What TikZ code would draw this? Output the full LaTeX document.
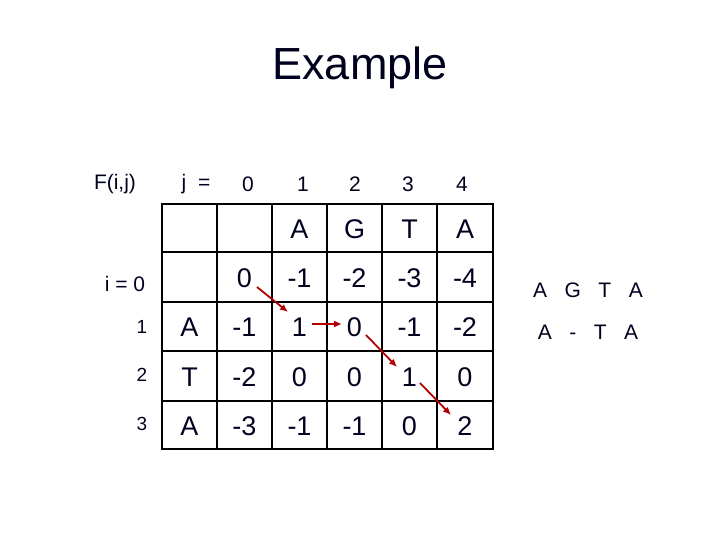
\documentclass[tikz,border=0pt]{standalone}
\usepackage{fontspec}
\setmainfont{Liberation Sans}
\usetikzlibrary{arrows.meta}
\begin{document}
\begin{tikzpicture}[x=1pt,y=-1pt,
  txt/.style={text=black!80!blue!60!black, inner sep=0pt},
  cell/.style={txt, font=\fontsize{27}{27}\selectfont},
  hdr/.style={txt, font=\fontsize{21}{21}\selectfont},
  arr/.style={draw=red!70!black, line width=1.8pt, -{Latex[length=8pt,width=7pt]}}]
\useasboundingbox (0,0) rectangle (720,540);
\node[txt, font=\fontsize{45}{45}\selectfont] (title) at (360,68) {Example};
\node[hdr] (F) at (115,184) {F(i,j)};
\node[hdr] (j) at (196,184) {j\ \ =};
\foreach \v/\x in {0/248,1/303,2/355,3/408,4/462} \node[hdr] (h\v) at (\x,184) {\v};
\node[hdr] (i0) at (125,284) {i = 0};
\foreach \v/\y in {1/327,2/375,3/424} \node[txt,font=\fontsize{19}{19}\selectfont] (r\v) at (142,\y) {\v};
\foreach \x in {217,272,327,382,437} \draw[line width=1.3pt] (\x,204) -- (\x,449);
\foreach \y in {252,302,351,401} \draw[line width=1.3pt] (162,\y) -- (493,\y);
\draw[line width=2.2pt] (162,204) rectangle (493,449);
\foreach \r/\y in {0/229,1/278,2/327,3/377,4/426}{
  \foreach \c/\x in {0/189.5,1/244.5,2/299.5,3/354.5,4/409.5,5/465}{
    \coordinate (c\r\c) at (\x,\y);}}
\foreach \c/\t in {2/A,3/G,4/T,5/A} \node[cell] (n0\c) at (c0\c) {\t};
\foreach \c/\t in {1/0,2/-1,3/-2,4/-3,5/-4} \node[cell] (n1\c) at (c1\c) {\t};
\foreach \c/\t in {0/A,1/-1,2/1,3/0,4/-1,5/-2} \node[cell] (n2\c) at (c2\c) {\t};
\foreach \c/\t in {0/T,1/-2,2/0,3/0,4/1,5/0} \node[cell] (n3\c) at (c3\c) {\t};
\foreach \c/\t in {0/A,1/-3,2/-1,3/-1,4/0,5/2} \node[cell] (n4\c) at (c4\c) {\t};
\coordinate (a1s) at (257,287); \coordinate (a1e) at (288,312);
\coordinate (a2s) at (312,324); \coordinate (a2e) at (342,324);
\coordinate (a3s) at (366,335); \coordinate (a3e) at (397,367);
\coordinate (a4s) at (420,383); \coordinate (a4e) at (451,415);
\draw[arr] (a1s) -- (a1e);
\draw[arr] (a2s) -- (a2e);
\draw[arr] (a3s) -- (a3e);
\draw[arr] (a4s) -- (a4e);
\node[hdr] (al1) at (588,290) {A\ \ \ G\ \ \ T\ \ \ A};
\node[hdr] (al2) at (588,332) {A\ \ \ -\ \ \ T\ \ \ A};
\end{tikzpicture}
\end{document}
